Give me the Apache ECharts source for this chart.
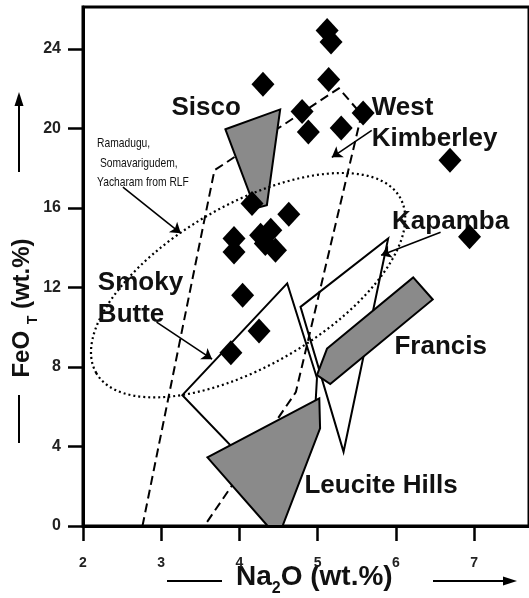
<!DOCTYPE html>
<html>
<head>
<meta charset="utf-8">
<script src="https://cdn.jsdelivr.net/npm/echarts@6/dist/echarts.min.js"></script>
<style>
  html, body { margin: 0; padding: 0; background: #fff; }
  #chart { width: 529px; height: 598px; }
</style>
</head>
<body>
<div id="chart"></div>
<script>
// sample points: Na2O (wt.%) and FeOT (wt.%)
const na2o = [5.12, 5.17, 4.30, 5.14, 4.80, 4.88, 5.30, 5.58, 6.69, 6.94, 4.16,
  4.63, 3.93, 3.93, 4.27, 4.40, 4.46, 4.33, 4.04, 4.25, 3.89]
const feot = [24.92, 24.34, 22.21, 22.45, 20.85, 19.81, 20.02, 20.77, 18.39, 14.54, 16.22,
  15.68, 14.46, 13.78, 14.62, 14.87, 13.87, 14.21, 11.61, 9.81, 8.71]

// field outlines, vertices as [Na2O, FeOT]
const westKimberley = [[2.76, 0], [3.68, 17.89], [5.27, 22.01], [5.56, 20.70], [4.72, 6.73], [3.55, 0]]
const sisco = [[3.82, 19.95], [4.52, 20.95], [4.35, 16.13], [4.20, 15.98]]
const smokyButte = [[3.27, 6.58], [4.61, 12.20], [4.99, 7.44], [4.96, 5.33], [4.19, 2.81]]
const kapamba = [[4.78, 11.02], [5.90, 14.46], [5.33, 3.73]]
const francis = [[5.12, 8.93], [6.22, 12.50], [6.47, 11.39], [5.16, 7.14], [4.99, 7.59]]
const leuciteHills = [[3.59, 3.45], [5.02, 6.42], [5.03, 4.91], [4.55, 0], [4.36, 0]]
// RLF field: centre, end of long axis, end of short axis
const rlfEllipse = [[4.11, 12.11], [6.05, 16.53], [4.62, 8.59]]

const xTicks = [2, 3, 4, 5, 6, 7]
const yTicks = [0, 4, 8, 12, 16, 20, 24]

// field names
const labelText = ['Sisco', 'West', 'Kimberley', 'Kapamba', 'Francis', 'Smoky', 'Butte', 'Leucite Hills']
const labelPos = [[3.13, 21.01], [5.69, 21.01], [5.69, 19.45], [5.95, 15.28], [5.98, 9.0],
  [2.19, 12.21], [2.19, 10.6], [4.83, 2.01]]
const noteText = ['Ramadugu,', ' Somavarigudem,', 'Yacharam from RLF']
const notePos = [[2.18, 19.25], [2.18, 18.24], [2.18, 17.29]]

// pointer arrows [from, to] and their bend
const arrowFrom = [[2.51, 17.04], [5.69, 19.90], [6.57, 14.77], [2.94, 10.25]]
const arrowTo = [[3.25, 14.72], [5.18, 18.54], [5.81, 13.62], [3.65, 8.39]]
const arrowBend = [0, 0, -0.12, 0.1]

const FONT = '"Liberation Sans", Arial, sans-serif'
const GREY = '#8a8a8a'

function fieldSeries(points, style, closed) {
  return {
    type: 'custom',
    silent: true,
    data: [points[0]],
    renderItem: function(params, api) {
      return {
        type: closed ? 'polygon' : 'polyline',
        shape: { points: points.map(p => api.coord(p)) },
        style: style
      }
    }
  }
}

function textSeries(pos, texts, font, squeeze) {
  return {
    type: 'custom',
    silent: true,
    data: pos,
    renderItem: function(params, api) {
      const p = api.coord(pos[params.dataIndex])
      return {
        type: 'text',
        x: p[0],
        y: p[1],
        scaleX: squeeze || 1,
        style: {
          text: texts[params.dataIndex],
          font: font,
          fill: '#111',
          align: 'left',
          verticalAlign: 'middle'
        }
      }
    }
  }
}

const chart = echarts.init(document.getElementById('chart'))

chart.setOption({
  animation: false,
  grid: {
    left: 83,
    top: 7,
    width: 448.5,
    height: 519,
    show: true,
    borderColor: '#000',
    borderWidth: 3
  },
  xAxis: {
    type: 'value',
    min: 2,
    max: 7.7,
    interval: 1,
    splitLine: { show: false },
    axisLine: { lineStyle: { color: '#000', width: 3 } },
    axisTick: { length: 15, customValues: xTicks, lineStyle: { color: '#000', width: 2.5 } },
    axisLabel: { customValues: xTicks, margin: 30, color: '#222', fontSize: 14, fontWeight: 'bold', fontFamily: FONT }
  },
  yAxis: {
    type: 'value',
    min: 0,
    max: 26.1,
    interval: 4,
    splitLine: { show: false },
    axisLine: { lineStyle: { color: '#000', width: 3 } },
    axisTick: { length: 15, customValues: yTicks, lineStyle: { color: '#000', width: 2.5 } },
    axisLabel: { customValues: yTicks, margin: 22, color: '#222', fontSize: 16, fontWeight: 'bold', fontFamily: FONT }
  },
  graphic: [
    // FeOT title and its arrow
    { type: 'line', shape: { x1: 19, y1: 172, x2: 19, y2: 102 }, style: { stroke: '#000', lineWidth: 2 } },
    { type: 'polygon', shape: { points: [[19, 92], [14.5, 106], [23.5, 106]] }, style: { fill: '#000' } },
    { type: 'line', shape: { x1: 19, y1: 395, x2: 19, y2: 443 }, style: { stroke: '#000', lineWidth: 2 } },
    {
      type: 'text',
      x: 25,
      y: 308,
      rotation: Math.PI / 2,
      style: {
        text: '{a|FeO }{s|T}{a| (wt.%)}',
        align: 'center',
        verticalAlign: 'middle',
        rich: {
          a: { font: 'bold 24px ' + FONT, fill: '#111', padding: [0, 0, 6, 0], verticalAlign: 'bottom' },
          s: { font: 'bold 14px ' + FONT, fill: '#111', verticalAlign: 'bottom' }
        }
      }
    },
    // Na2O title and its arrow
    { type: 'line', shape: { x1: 167, y1: 581, x2: 222, y2: 581 }, style: { stroke: '#000', lineWidth: 2 } },
    { type: 'line', shape: { x1: 433, y1: 581, x2: 506, y2: 581 }, style: { stroke: '#000', lineWidth: 2 } },
    { type: 'polygon', shape: { points: [[517, 581], [503, 576.5], [503, 585.5]] }, style: { fill: '#000' } },
    {
      type: 'text',
      x: 236,
      y: 580,
      style: {
        text: '{a|Na}{s|2}{a|O (wt.%)}',
        align: 'left',
        verticalAlign: 'middle',
        rich: {
          a: { font: 'bold 28px ' + FONT, fill: '#111', padding: [0, 0, 6, 0], verticalAlign: 'bottom' },
          s: { font: 'bold 16px ' + FONT, fill: '#111', verticalAlign: 'bottom' }
        }
      }
    }
  ],
  series: [
    fieldSeries(westKimberley, { fill: 'none', stroke: '#000', lineWidth: 2, lineDash: [9, 5] }, false),
    fieldSeries(smokyButte, { fill: 'none', stroke: '#000', lineWidth: 2 }, true),
    fieldSeries(kapamba, { fill: 'none', stroke: '#000', lineWidth: 2 }, true),
    fieldSeries(sisco, { fill: GREY, stroke: '#000', lineWidth: 2, lineJoin: 'miter' }, true),
    fieldSeries(francis, { fill: GREY, stroke: '#000', lineWidth: 2, lineJoin: 'miter' }, true),
    fieldSeries(leuciteHills, { fill: GREY, stroke: '#000', lineWidth: 2, lineJoin: 'miter' }, true),
    {
      type: 'custom',
      silent: true,
      data: [rlfEllipse[0]],
      renderItem: function(params, api) {
        const c = api.coord(rlfEllipse[0])
        const a = api.coord(rlfEllipse[1])
        const b = api.coord(rlfEllipse[2])
        return {
          type: 'ellipse',
          x: c[0],
          y: c[1],
          rotation: Math.atan2(c[1] - a[1], a[0] - c[0]),
          shape: {
            cx: 0,
            cy: 0,
            rx: Math.hypot(a[0] - c[0], a[1] - c[1]),
            ry: Math.hypot(b[0] - c[0], b[1] - c[1])
          },
          style: { fill: 'none', stroke: '#000', lineWidth: 2.2, lineDash: [2, 3] }
        }
      }
    },
    textSeries(labelPos, labelText, 'bold 26px ' + FONT),
    textSeries(notePos, noteText, '13px ' + FONT, 0.79),
    {
      type: 'scatter',
      symbol: 'diamond',
      symbolSize: [23, 25],
      itemStyle: { color: '#000', opacity: 1 },
      data: na2o.map((x, i) => [x, feot[i]]),
      markLine: {
        silent: true,
        symbol: ['none', 'arrow'],
        symbolSize: 10,
        label: { show: false },
        lineStyle: { color: '#000', width: 1.6, type: 'solid' },
        data: arrowFrom.map((p, i) => [
          { coord: p, lineStyle: { curveness: arrowBend[i] } },
          { coord: arrowTo[i] }
        ])
      }
    }
  ]
})
</script>
</body>
</html>
